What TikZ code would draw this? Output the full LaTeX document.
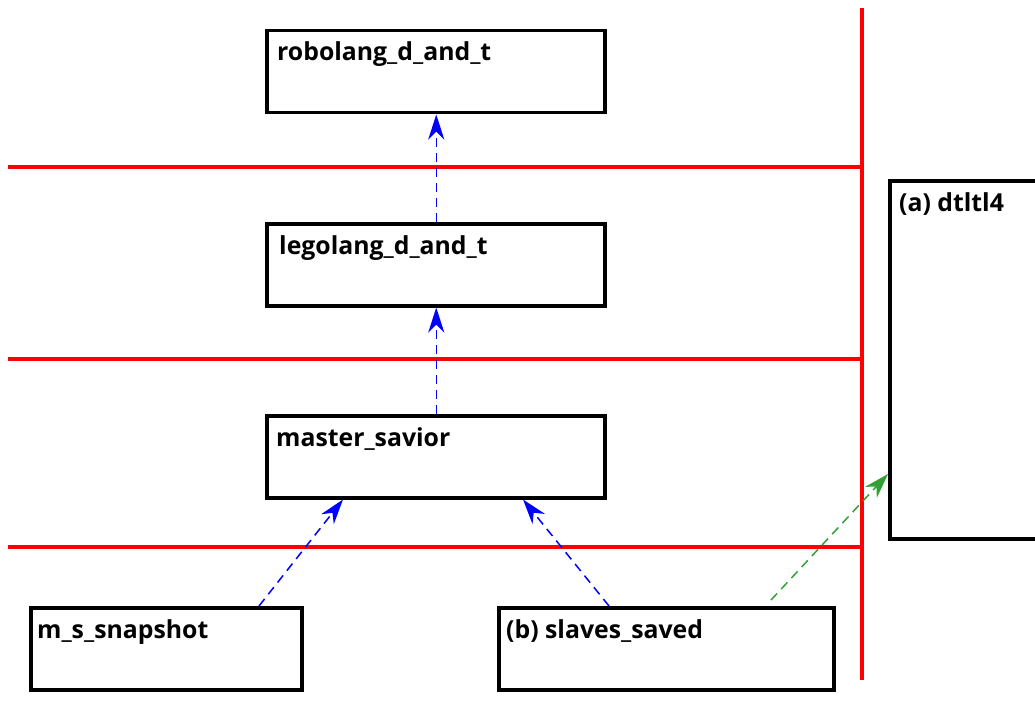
\documentclass[tikz,border=0pt]{standalone}
\usepackage{fontspec}
\setmainfont{Open Sans}
\usetikzlibrary{arrows.meta,calc}
\begin{document}
\begin{tikzpicture}[x=1pt,y=-1pt,
  box/.style={draw=black,line width=3.5pt,minimum width=#1,inner sep=0pt,anchor=north west,minimum height=82},
  ttl/.style={font=\bfseries\fontsize{24.8}{28}\selectfont,anchor=base west,inner sep=0pt},
  sep/.style={draw=red,line width=3.5pt},
  dep/.style={draw=blue,line width=1.5pt,dash pattern=on 9pt off 6pt,-{Stealth[length=25pt,width=16pt,inset=8pt]}},
  gdep/.style={draw={rgb,255:red,50;green,160;blue,50},line width=1.5pt,dash pattern=on 9pt off 6pt,-{Stealth[length=25pt,width=16pt,inset=8pt]}}]
\useasboundingbox (0,0) rectangle (1035,706);
\begin{scope}
\clip (0,0) rectangle (1035,706);
% separators
\coordinate (h1a) at (8,167); \coordinate (h1b) at (862,167);
\coordinate (h2a) at (8,359); \coordinate (h2b) at (862,359);
\coordinate (h3a) at (8,547); \coordinate (h3b) at (862,547);
\coordinate (va) at (862,8); \coordinate (vb) at (862,680);
\draw[sep] (h1a) -- (h1b);
\draw[sep] (h2a) -- (h2b);
\draw[sep] (h3a) -- (h3b);
\draw[sep] (va) -- (vb);
% boxes
\node[box=338] (robo) at (265,29) {};
\node[box=338] (lego) at (265,222) {};
\node[box=338] (mast) at (265,414) {};
\node[box=271] (snap) at (29,606) {};
\node[box=335] (slav) at (497,606) {};
\node[box=170,minimum height=358] (dtl) at (888,179) {};
\node[ttl] at ($(robo.north west)+(12,32)$) {robolang\_d\_and\_t};
\node[ttl] at ($(lego.north west)+(14,32)$) {legolang\_d\_and\_t};
\node[ttl] at ($(mast.north west)+(11,32)$) {master\_savior};
\node[ttl] at ($(snap.north west)+(8,32)$) {m\_s\_snapshot};
\node[ttl] at ($(slav.north west)+(9,32)$) {(b) slaves\_saved};
\node[ttl] at ($(dtl.north west)+(11,32)$) {(a) dtltl4};
% connectors
\draw[dep] ($(lego.north)+(0.5,0)$) -- ($(robo.south)+(0.5,0)$);
\draw[dep] ($(mast.north)+(0.5,0)$) -- ($(lego.south)+(0.5,0)$);
\draw[dep] ($(snap.north west)+(230,0)$) -- ($(mast.south west)+(78,0)$);
\draw[dep] ($(slav.north west)+(112,0)$) -- ($(mast.south west)+(258,0)$);
\coordinate (gs) at (771,600);
\draw[gdep] (gs) -- ($(dtl.north west)+(0,295)$);
\end{scope}
\end{tikzpicture}
\end{document}
